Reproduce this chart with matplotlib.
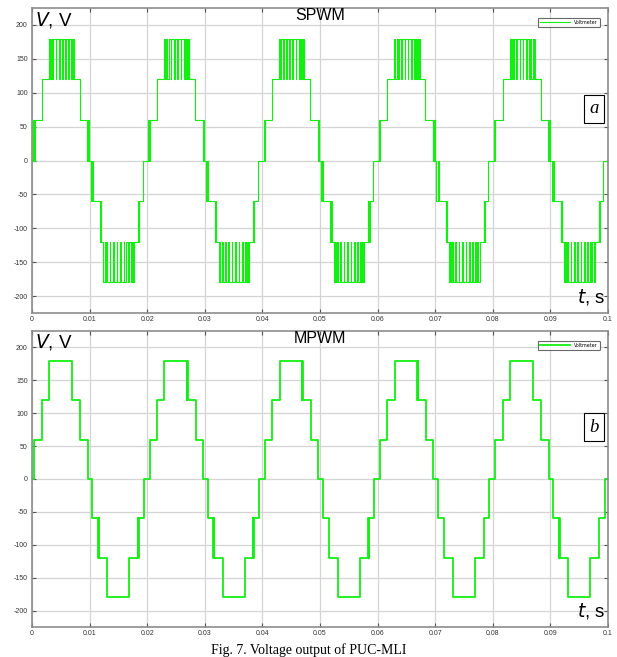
import numpy as np
import matplotlib
matplotlib.use("Agg")
import matplotlib.pyplot as plt

# one 50 Hz period (0 .. 0.02 s), switching instants and the level after each switch
period = 0.02
n_periods = 5

spwm_t = [0.0, 0.00022, 0.00032, 0.00045, 0.0017,
          0.0029, 0.0031, 0.0033, 0.0035, 0.0037, 0.0041, 0.0042, 0.0047, 0.0048, 0.0052,
          0.0053, 0.0058, 0.0059, 0.0063, 0.0065, 0.0067, 0.0069, 0.0071, 0.0072, 0.0073,
          0.0083, 0.0096, 0.0098, 0.0099,
          0.0102, 0.0104, 0.0106, 0.0118, 0.0119, 0.0120,
          0.0124, 0.0126, 0.0127, 0.0129, 0.0131, 0.0135, 0.0136, 0.0141, 0.0142, 0.0147, 0.0148,
          0.0153, 0.0154, 0.0159, 0.0160, 0.0164, 0.0166, 0.0169, 0.0171, 0.0173, 0.0175, 0.0177,
          0.0184, 0.0185, 0.0186, 0.0192]
spwm_v = [0, 60, 0, 60, 120,
          180, 120, 180, 120, 180, 120, 180, 120, 180, 120,
          180, 120, 180, 120, 180, 120, 180, 120, 180, 120,
          60, 0, 60, 0,
          -60, 0, -60, -120, -60, -120,
          -180, -120, -180, -120, -180, -120, -180, -120, -180, -120, -180,
          -120, -180, -120, -180, -120, -180, -120, -180, -120, -180, -120,
          -60, -120, -60, 0]

mpwm_t = [0.0, 0.0004, 0.0017, 0.0030, 0.0069, 0.00695, 0.0070, 0.0084, 0.0097,
          0.0105, 0.0115, 0.01155, 0.0116, 0.0131, 0.0169, 0.0184, 0.01845, 0.0185, 0.0194]
mpwm_v = [0, 60, 120, 180, 120, 180, 120, 60, 0,
          -60, -120, -60, -120, -180, -120, -60, -120, -60, 0]

xticks = [0, 0.01, 0.02, 0.03, 0.04, 0.05, 0.06, 0.07, 0.08, 0.09, 0.1]
xticklabels = ["0", "0.01", "0.02", "0.03", "0.04", "0.05", "0.06", "0.07", "0.08", "0.09", "0.1"]
yticks = [200, 150, 100, 50, 0, -50, -100, -150, -200]
yticklabels = ["200", "150", "100", "50", "0", "-50", "-100", "-150", "-200"]


def tile(t, v):
    tt = np.concatenate([np.array(t) + k * period for k in range(n_periods)] + [[n_periods * period]])
    vv = np.concatenate([np.array(v) for k in range(n_periods)] + [[0]])
    return tt, vv


fig = plt.figure(figsize=(6.17, 6.57), dpi=100)
ax1 = fig.add_axes([0.0519, 0.5236, 0.9335, 0.4642])
ax2 = fig.add_axes([0.0519, 0.0457, 0.9335, 0.4505])

panels = [(ax1, spwm_t, spwm_v, "SPWM", "a", 0.8, 0.669),
          (ax2, mpwm_t, mpwm_v, "MPWM", "b", 1.3, 0.675)]

for ax, t, v, title, letter, lw, ly in panels:
    tt, vv = tile(t, v)
    ax.step(tt, vv, where="post", color="#11f011", lw=lw, label="Voltmeter")
    ax.set_xlim(0, 0.1)
    ax.set_ylim(-225, 225)
    ax.set_xticks(xticks)
    ax.set_xticklabels(xticklabels)
    ax.set_yticks(yticks)
    ax.set_yticklabels(yticklabels)
    ax.grid(True, color="#d4d4d4", lw=0.9)
    ax.set_axisbelow(True)
    ax.tick_params(direction="in", length=3, width=0.8, color="#555555",
                   labelsize=5, labelcolor="#333333", top=True, right=True, pad=3)
    ax.tick_params(axis="x", pad=2.5)
    for s in ax.spines.values():
        s.set_color("#8c8c8c")
        s.set_linewidth(1.2)
    for lab in ax.get_xticklabels() + ax.get_yticklabels():
        lab.set_family("Liberation Sans")

    ax.text(0.005, 0.995, "$V$, V", transform=ax.transAxes, ha="left", va="top",
            fontsize=13.5, family="Liberation Sans")
    ax.text(0.5, 1.0, title, transform=ax.transAxes, ha="center", va="top",
            fontsize=11.5, family="Liberation Sans")
    ax.text(0.996, 0.02, "$t$, s", transform=ax.transAxes, ha="right", va="bottom",
            fontsize=13.5, family="Liberation Sans")
    ax.text(0.976, ly, letter, transform=ax.transAxes, ha="center", va="center",
            fontsize=13.5, family="Liberation Serif", style="italic",
            bbox=dict(boxstyle="square,pad=0.3", fc="white", ec="black", lw=0.8))
    leg = ax.legend(loc="upper right", bbox_to_anchor=(0.99, 0.975), fontsize=3.4,
                    handlelength=6.5, borderpad=0.45, frameon=True, fancybox=True)
    leg.get_frame().set_edgecolor("#444444")
    leg.get_frame().set_linewidth(0.8)

fig.text(0.5, 0.0045, "Fig. 7. Voltage output of PUC-MLI", ha="center", va="baseline",
         fontsize=10, family="Liberation Serif")

fig.savefig("out.png", dpi=100)
